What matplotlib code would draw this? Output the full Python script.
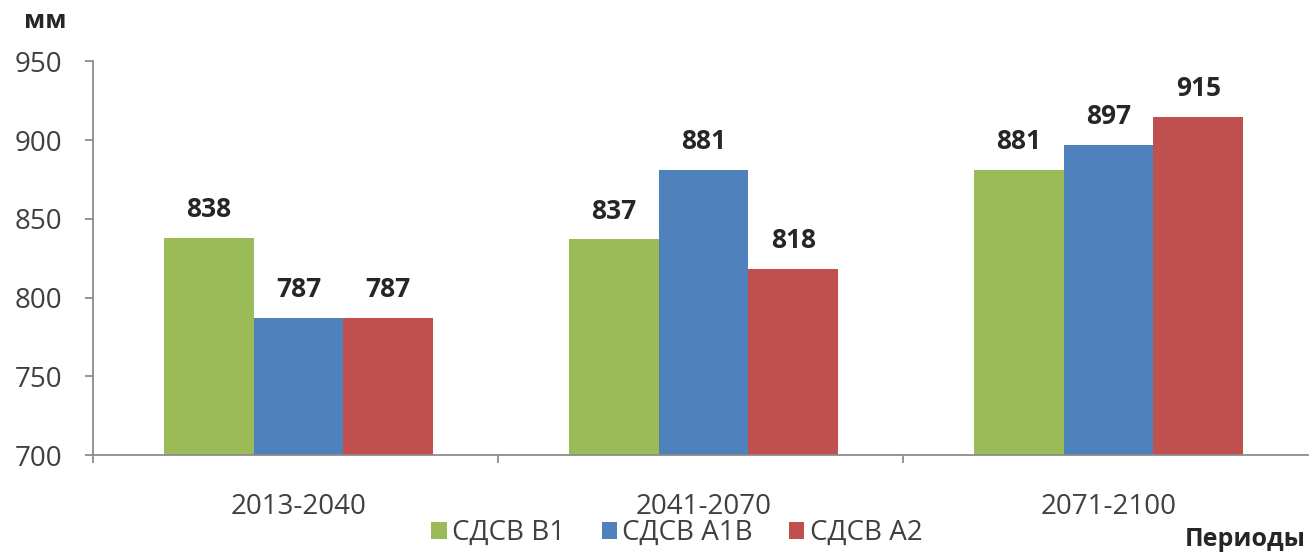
import matplotlib
matplotlib.use("Agg")
import matplotlib.pyplot as plt
from matplotlib.patches import Patch
import numpy as np

plt.rcParams['font.family'] = ['Open Sans', 'DejaVu Sans']

# Periods and precipitation totals (mm) for each climate scenario
periods = ["2013-2040", "2041-2070", "2071-2100"]
scenarios = ["СДСВ В1", "СДСВ А1В", "СДСВ А2"]
b1 = [838, 837, 881]
a1b = [787, 881, 897]
a2 = [787, 818, 915]
series = [b1, a1b, a2]
colors = ["#9BBB59", "#4F81BD", "#C0504D"]
yticks = [700, 750, 800, 850, 900, 950]

text_color = "#404040"
axis_color = "#8C8C8C"

fig = plt.figure(figsize=(13.12, 5.53), dpi=100)
ax = fig.add_axes([0.0709, 0.1772, 0.9261, 0.7116])

x = np.arange(len(periods))
width = 0.2215
shift = 0.0075
for k, (vals, col) in enumerate(zip(series, colors)):
    pos = x + shift + (k - 1) * width
    ax.bar(pos, np.array(vals) - 700, bottom=700, width=width,
           color=col, edgecolor="none", zorder=2)
    for xi, v in zip(pos, vals):
        ax.annotate(str(v), xy=(xi, v), xytext=(0, 15), textcoords="offset points",
                    ha="center", va="baseline", fontsize=19, fontweight="bold",
                    color="#262626")

ax.set_xlim(-0.5, 2.5)
ax.set_ylim(700, 950)
ax.set_yticks(yticks)
ax.set_yticklabels([str(t) for t in yticks])

# Boundary ticks on the x axis; period names sit on minor ticks at group centres
ax.set_xticks([-0.5, 0.5, 1.5])
ax.set_xticklabels([])
ax.set_xticks(x + shift, minor=True)
ax.set_xticklabels(periods, minor=True)
ax.tick_params(axis="x", which="minor", length=0, pad=27, labelsize=20,
               labelcolor=text_color)
ax.tick_params(axis="x", which="major", length=6, width=1.3, color=axis_color)
ax.tick_params(axis="y", length=6, width=1.3, color=axis_color, pad=16,
               labelsize=20, labelcolor=text_color)

for side in ["top", "right"]:
    ax.spines[side].set_visible(False)
for side in ["left", "bottom"]:
    ax.spines[side].set_color(axis_color)
    ax.spines[side].set_linewidth(1.3)

fig.text(45 / 1312, 1 - 22 / 553, "мм", ha="center", va="center",
         fontsize=18, fontweight="bold", color="#262626")
fig.text(1306 / 1312, 1 - 540 / 553, "Периоды", ha="right", va="center",
         fontsize=18, fontweight="bold", color="#262626")

handles = [Patch(facecolor=c, edgecolor="none") for c in colors]
fig.legend(handles, scenarios, loc="center", ncol=3, frameon=False,
           bbox_to_anchor=(677 / 1312, 1 - 533 / 553), fontsize=20,
           handlelength=0.55, handleheight=0.55, handletextpad=0.2,
           columnspacing=1.3, labelcolor=text_color, borderpad=0,
           borderaxespad=0)

fig.savefig("out.png", dpi=100, facecolor="white")
